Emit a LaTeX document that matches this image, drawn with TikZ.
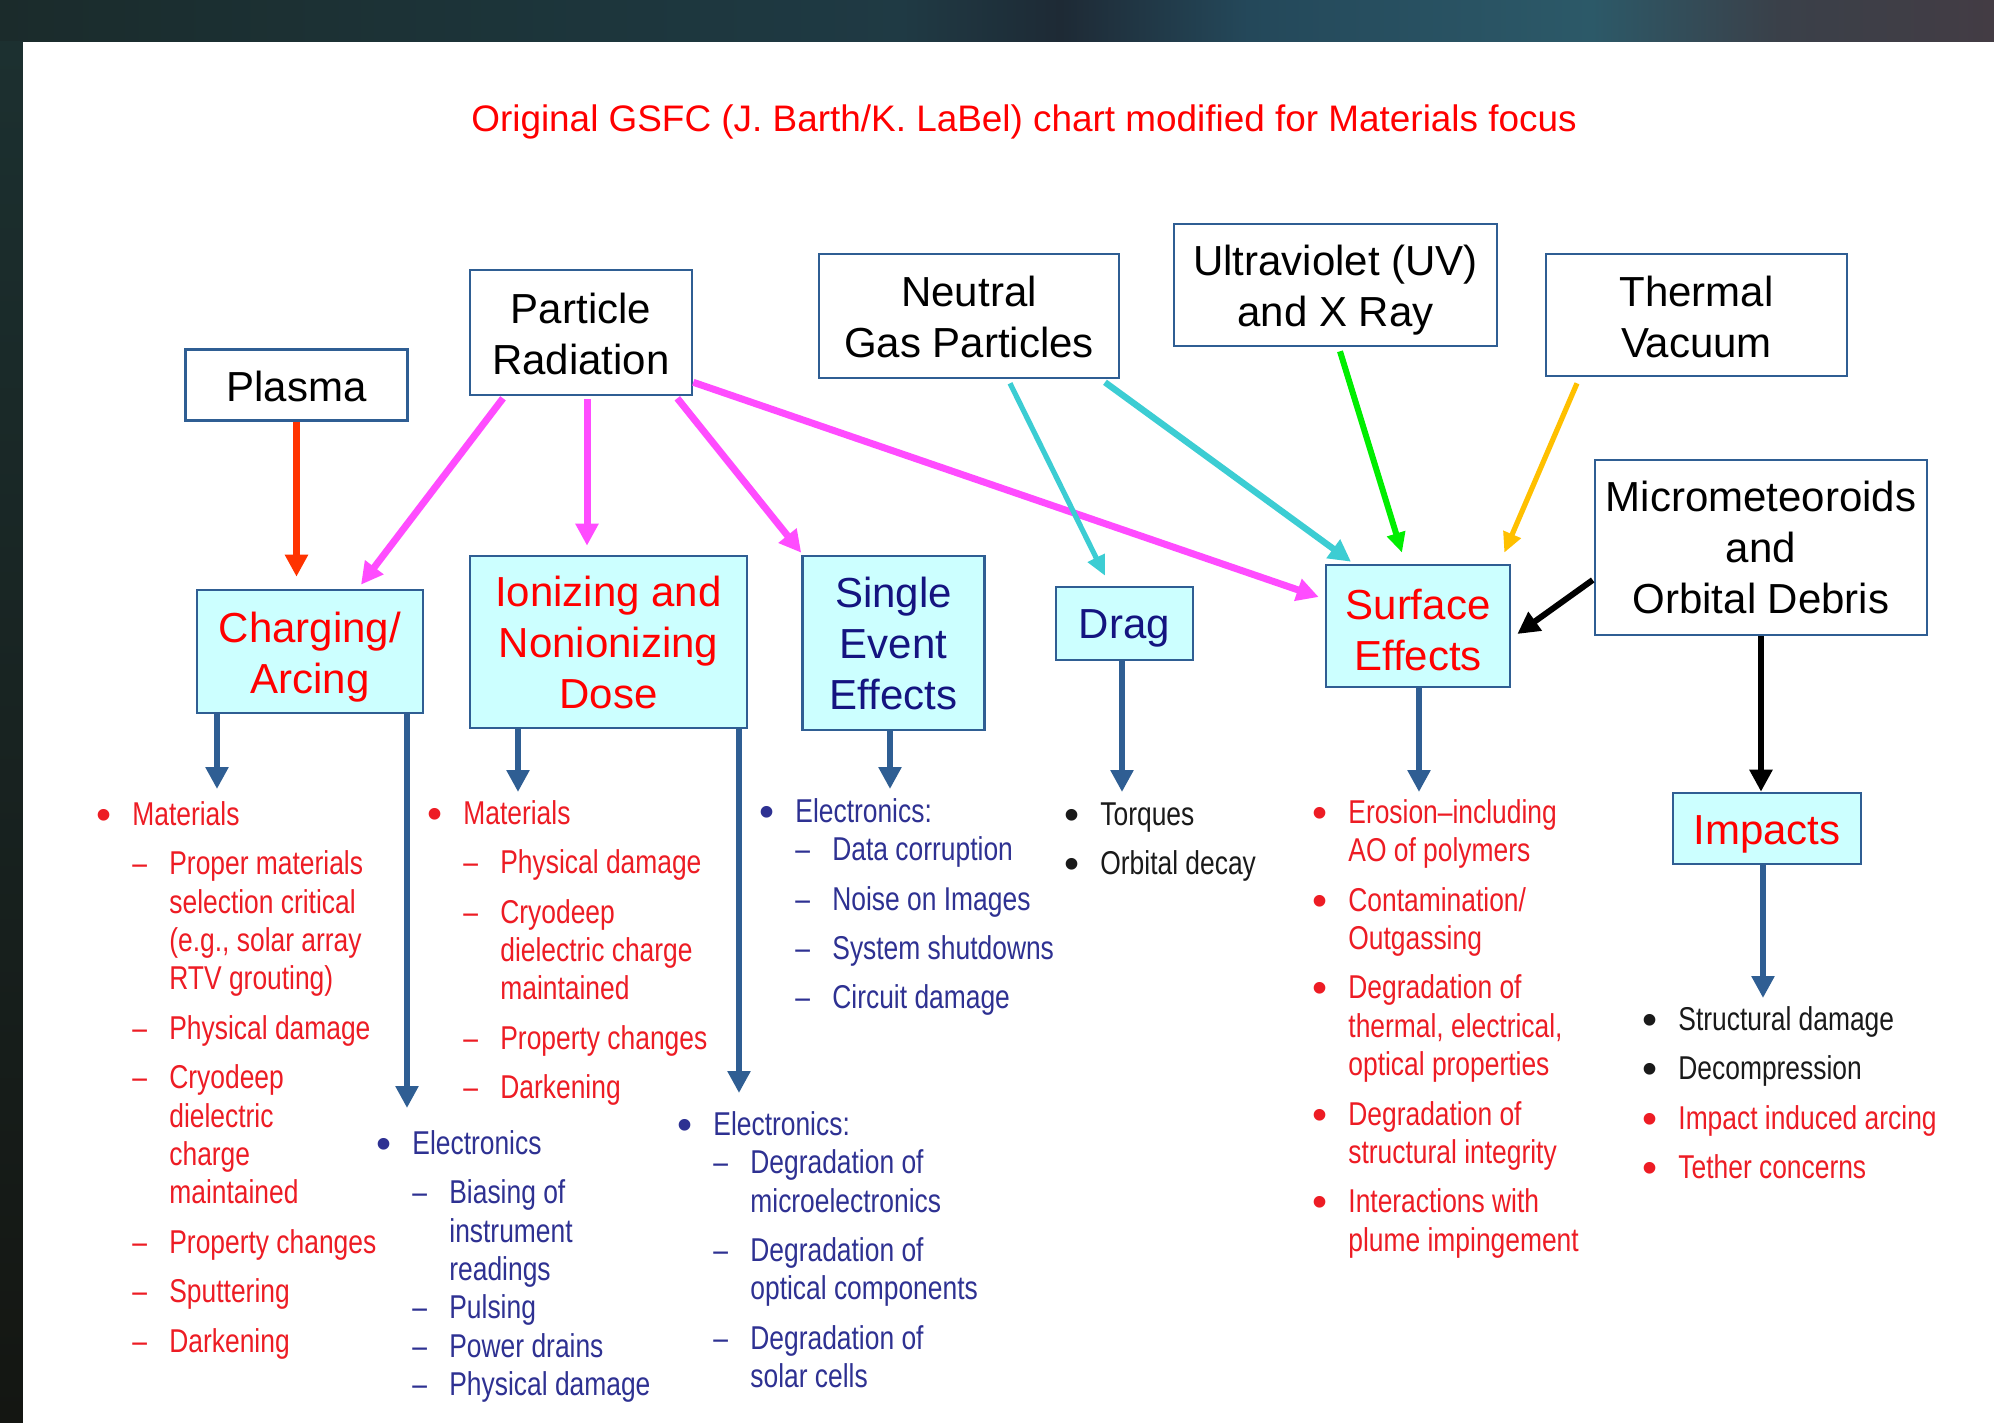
\documentclass[tikz,border=0pt]{standalone}
\usepackage{graphicx}
\usepackage{fontspec}
\setmainfont{Liberation Sans}
\newfontfamily\narrowfont[FakeStretch=0.8]{Liberation Sans}
\newfontfamily\dotfont{Liberation Sans}
\usetikzlibrary{positioning,arrows.meta,calc}

\definecolor{boxblue}{HTML}{2F5E93}
\definecolor{effcyan}{HTML}{CCFFFF}
\definecolor{hotred}{HTML}{FF0000}
\definecolor{navytext}{HTML}{141480}
\definecolor{listred}{HTML}{ED1C24}
\definecolor{listblue}{HTML}{2E3192}
\definecolor{listblack}{HTML}{1A1A1A}
\definecolor{pinkline}{HTML}{FF4CFF}
\definecolor{plasmared}{HTML}{FF3300}
\definecolor{gascyan}{HTML}{3CCDD3}
\definecolor{uvgreen}{HTML}{00EE00}
\definecolor{heatorange}{HTML}{FFC000}
\definecolor{bgA}{HTML}{1B2B2B}
\definecolor{bgB}{HTML}{1C3439}
\definecolor{bgC}{HTML}{1F3A44}
\definecolor{bgD}{HTML}{1E2A35}
\definecolor{bgE}{HTML}{24485A}
\definecolor{bgF}{HTML}{2C5968}
\definecolor{bgG}{HTML}{3A4049}
\definecolor{bgH}{HTML}{433C44}
\definecolor{stripTop}{HTML}{1C3030}
\definecolor{stripBot}{HTML}{141612}

\pgfdeclarehorizontalshading{topband}{100bp}{color(0bp)=(bgA); color(25bp)=(bgA);
  color(37.5bp)=(bgB); color(47.6bp)=(bgC); color(51.6bp)=(bgD); color(56.3bp)=(bgE);
  color(64.9bp)=(bgF); color(69.6bp)=(bgG); color(75bp)=(bgH); color(100bp)=(bgH)}

% list lines: bullet item, bullet continuation, dash item, dash continuation
\newcommand{\bitem}[1]{\makebox[14pt][l]{\hspace*{-3.75pt}\raisebox{-2pt}{\scalebox{1.3}{\dotfont\textbullet}}}#1}
\newcommand{\bcont}[1]{\hspace*{14pt}#1}
\newcommand{\ditem}[1]{\hspace*{14pt}\makebox[18.5pt][l]{\textendash}#1}
\newcommand{\dcont}[1]{\hspace*{32.5pt}#1}
% pushes a box caption down a little
\newcommand{\lift}[1]{\rule{0pt}{\dimexpr15.3pt+#1\relax}}

\begin{document}
\begin{tikzpicture}[
    x=0.5pt, y=-0.5pt,
    srcbox/.style={rectangle, draw=boxblue, line width=1.3pt, fill=white, inner sep=2pt, align=center, font=\fontsize{21pt}{25.5pt}\selectfont},
    effbox/.style={srcbox, fill=effcyan, text=hotred},
    itemlist/.style={anchor=north west, inner sep=0pt, align=left, font=\narrowfont\fontsize{16.5pt}{19.2pt}\selectfont},
    wire/.style={-{Triangle[length=11pt,width=11pt]}, line width=3.5pt},
    thinwire/.style={-{Triangle[length=10pt,width=9pt]}, line width=2.6pt},
    feedarrow/.style={wire, boxblue, line width=3.2pt}
]
\useasboundingbox (0,0) rectangle (1994,1423);

% Backdrop
\shade[shading=topband] (0,0) rectangle (1994,42);
\shade[top color=stripTop, bottom color=stripBot] (0,42) rectangle (23,1423);
\fill[white] (23,42) rectangle (1994,1423);

\node[text=hotred, anchor=base, font=\fontsize{18.45pt}{22pt}\selectfont] (title) at (1024,132)
  {Original GSFC (J. Barth/K. LaBel) chart modified for Materials focus};

% Environments
\node[srcbox, minimum width=111pt, minimum height=35.5pt] (plasma) at (296.5,385) {\lift{1pt}Plasma};
\node[srcbox, minimum width=111pt, minimum height=62.5pt] (partrad) at (581,332.5) {\lift{1pt}Particle\\Radiation};
\node[srcbox, minimum width=150pt, minimum height=62pt] (neutral) at (969,316) {\lift{1pt}Neutral\\Gas Particles};
\node[srcbox, minimum width=161.5pt, minimum height=61pt] (uvx) at (1335.5,285) {\lift{5pt}Ultraviolet (UV)\\and X Ray};
\node[srcbox, minimum width=150.5pt, minimum height=61pt] (thermal) at (1696.5,315) {\lift{1.5pt}Thermal\\Vacuum};
\node[srcbox, minimum width=166pt, minimum height=87.5pt] (micro) at (1761,547.5) {Micrometeoroids\\and\\Orbital Debris};

% Effects
\node[effbox, minimum width=113pt, minimum height=61.5pt] (charging) at (310,651.5) {\lift{5.5pt}Charging/\\Arcing};
\node[effbox, minimum width=138.5pt, minimum height=86pt] (ionizing) at (608.5,642) {Ionizing and\\Nonionizing\\Dose};
\node[effbox, text=navytext, minimum width=91pt, minimum height=87pt] (see) at (893.5,643) {Single\\Event\\Effects};
\node[effbox, text=navytext, minimum width=68.5pt, minimum height=36.5pt] (drag) at (1124.5,623.5) {\lift{4pt}Drag};
\node[effbox, minimum width=92pt, minimum height=61pt] (surface) at (1418,626) {\lift{3.5pt}Surface\\Effects};
\node[effbox, minimum width=94pt, minimum height=35.5pt] (impacts) at (1767,828.5) {\lift{5.2pt}Impacts};

% Environment to effect arrows
\draw[wire, plasmared, shorten >=6pt] (plasma.south) -- (plasma.south |- charging.north);
\draw[wire, pinkline] ($(partrad.south)+(-78,2)$) -- ($(charging.north)+(51,-4)$);
\draw[wire, pinkline] ($(partrad.south)+(6,3)$) -- ($(ionizing.north)+(-21.5,-9)$);
\draw[wire, pinkline] ($(partrad.south east)+(-16,2)$) -- ($(see.north west)+(0,-2)$);
\draw[wire, pinkline] ($(partrad.south east)+(0,-14)$) -- ($(surface.west)+(-6,-29)$);
\draw[thinwire, gascyan] ($(neutral.south)+(41,4)$) -- ($(drag.north)+(-19.5,-10)$);
\draw[wire, gascyan, line width=3.2pt] ($(neutral.south)+(136,3)$) -- ($(surface.north)+(-67,-2)$);
\draw[thinwire, uvgreen, line width=3pt] ($(uvx.south)+(4.5,4)$) -- ($(surface.north)+(-16,-11)$);
\draw[thinwire, heatorange] ($(thermal.south)+(-119.5,6)$) -- ($(surface.north east)+(-7,-11)$);
\draw[wire, black, line width=3pt] ($(micro.west)+(-1,32.5)$) -- ($(surface.east)+(6,8)$);
\draw[wire, black, line width=3pt] (micro.south) -- (micro.south |- impacts.north);

% Arrow ends above the lists
\coordinate (chgtip) at (217,789);
\coordinate (chglong) at (407,1108);
\coordinate (iontip) at (518,792);
\coordinate (ionlong) at (739,1093);
\coordinate (seetip) at (890,789);
\coordinate (dragtip) at (1122,792);
\coordinate (surftip) at (1419,792);
\coordinate (imptip) at (1763,998);

\draw[feedarrow] (chgtip |- charging.south) -- (chgtip);
\draw[feedarrow] (chglong |- charging.south) -- (chglong);
\draw[feedarrow] (iontip |- ionizing.south) -- (iontip);
\draw[feedarrow] (ionlong |- ionizing.south) -- (ionlong);
\draw[feedarrow] (seetip |- see.south) -- (seetip);
\draw[feedarrow] (dragtip |- drag.south) -- (dragtip);
\draw[feedarrow] (surftip |- surface.south) -- (surftip);
\draw[feedarrow] (imptip |- impacts.south) -- (imptip);

% Lists
\node[itemlist, text=listred] (chglist) at (104,798) {\strut\bitem{Materials}\\[5.5pt]
  \ditem{Proper materials}\\ \dcont{selection critical}\\ \dcont{(e.g., solar array}\\ \dcont{RTV grouting)}\\[5.5pt]
  \ditem{Physical damage}\\[5.5pt]
  \ditem{Cryodeep}\\ \dcont{dielectric}\\ \dcont{charge}\\ \dcont{maintained}\\[5.5pt]
  \ditem{Property changes}\\[5.5pt]
  \ditem{Sputtering}\\[5.5pt]
  \ditem{Darkening}};
\node[itemlist, text=listblue] (chgelec) at (384,1127) {\strut\bitem{Electronics}\\[5.5pt]
  \ditem{Biasing of}\\ \dcont{instrument}\\ \dcont{readings}\\
  \ditem{Pulsing}\\ \ditem{Power drains}\\ \ditem{Physical damage}};
\node[itemlist, text=listred] (ionlist) at (435,797) {\strut\bitem{Materials}\\[5.5pt]
  \ditem{Physical damage}\\[5.5pt]
  \ditem{Cryodeep}\\ \dcont{dielectric charge}\\ \dcont{maintained}\\[5.5pt]
  \ditem{Property changes}\\[5.5pt]
  \ditem{Darkening}};
\node[itemlist, text=listblue] (ionelec) at (685,1108) {\strut\bitem{Electronics:}\\
  \ditem{Degradation of}\\ \dcont{microelectronics}\\[5.5pt]
  \ditem{Degradation of}\\ \dcont{optical components}\\[5.5pt]
  \ditem{Degradation of}\\ \dcont{solar cells}};
\node[itemlist, text=listblue] (seelist) at (767,795) {\strut\bitem{Electronics:}\\
  \ditem{Data corruption}\\[5.5pt]
  \ditem{Noise on Images}\\[5.5pt]
  \ditem{System shutdowns}\\[5.5pt]
  \ditem{Circuit damage}};
\node[itemlist, text=listblack] (draglist) at (1072,798) {\strut\bitem{Torques}\\[5.5pt]
  \bitem{Orbital decay}};
\node[itemlist, text=listred] (surflist) at (1320,796) {\strut\bitem{Erosion\textendash including}\\ \bcont{AO of polymers}\\[5.5pt]
  \bitem{Contamination/}\\ \bcont{Outgassing}\\[5.5pt]
  \bitem{Degradation of}\\ \bcont{thermal, electrical,}\\ \bcont{optical properties}\\[5.5pt]
  \bitem{Degradation of}\\ \bcont{structural integrity}\\[5.5pt]
  \bitem{Interactions with}\\ \bcont{plume impingement}};
\node[itemlist, text=listred] (implist) at (1650,1003) {\strut\textcolor{listblack}{\bitem{Structural damage}}\\[5.5pt]
  \textcolor{listblack}{\bitem{Decompression}}\\[5.5pt]
  \bitem{Impact induced arcing}\\[5.5pt]
  \bitem{Tether concerns}};

\end{tikzpicture}
\end{document}
